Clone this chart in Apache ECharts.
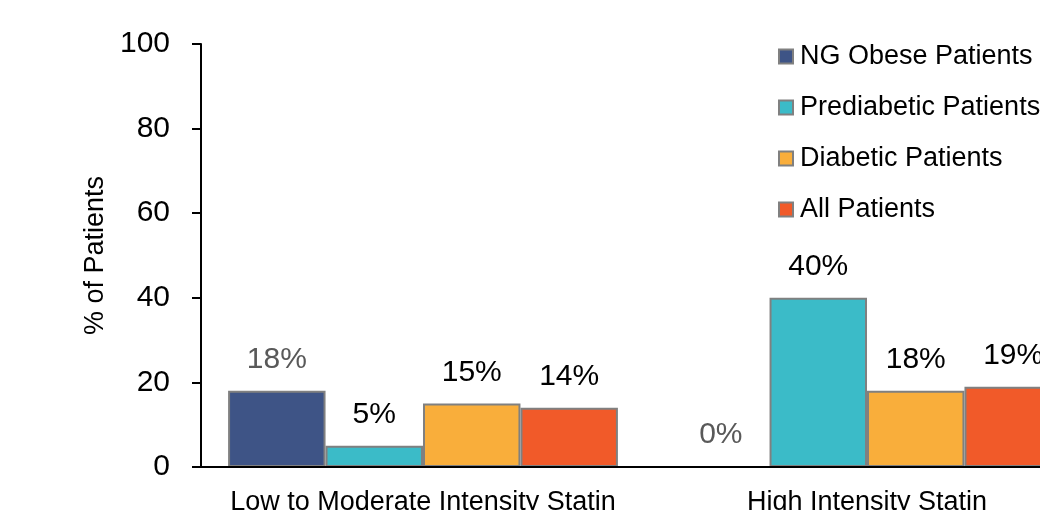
<!DOCTYPE html>
<html>
<head>
<meta charset="utf-8">
<script src="https://cdn.jsdelivr.net/npm/echarts@6/dist/echarts.min.js"></script>
<style>
  html, body { margin: 0; padding: 0; background: #ffffff; overflow: hidden; }
  #chart { width: 1100px; height: 540px; }
</style>
</head>
<body>
<div id="chart"></div>
<script>
// Statin intensity by patient group (% of patients)
const categories = ['Low to Moderate Intensity Statin', 'High Intensity Statin'];
const seriesNames = ['NG Obese Patients', 'Prediabetic Patients', 'Diabetic Patients', 'All Patients'];
const ngObese = [18, 0];
const prediabetic = [5, 40];
const diabetic = [15, 18];
const allPatients = [14, 19];
const yTicks = [0, 20, 40, 60, 80, 100];

const seriesValues = [ngObese, prediabetic, diabetic, allPatients];
const colors = ['#3e5486', '#3bbbc8', '#f9ae3b', '#f15a29'];
const labelColors = ['#595959', '#000000', '#000000', '#000000'];
const font = '"Liberation Sans", Arial, sans-serif';

const chart = echarts.init(document.getElementById('chart'), null, { renderer: 'canvas' });

chart.setOption({
  animation: false,
  backgroundColor: '#ffffff',
  textStyle: { fontFamily: font },
  grid: { left: 201, top: 44, width: 888, height: 423, containLabel: false },
  legend: {
    orient: 'vertical',
    left: 773,
    top: 38,
    itemWidth: 14,
    itemHeight: 14,
    itemGap: 24,
    icon: 'rect',
    textStyle: { fontFamily: font, fontSize: 27, color: '#000000', padding: [0, 0, 0, 2] },
    data: seriesNames
  },
  xAxis: {
    type: 'category',
    data: categories,
    z: 5,
    axisLine: { show: true, lineStyle: { color: '#000000', width: 2 } },
    axisTick: { show: false },
    axisLabel: { interval: 0, margin: 22, fontFamily: font, fontSize: 27, color: '#000000' },
    splitLine: { show: false }
  },
  yAxis: {
    type: 'value',
    min: yTicks[0],
    max: yTicks[yTicks.length - 1],
    interval: yTicks[1] - yTicks[0],
    name: '% of Patients',
    nameLocation: 'middle',
    nameGap: 90,
    nameRotate: 90,
    nameTextStyle: { fontFamily: font, fontSize: 27, color: '#000000' },
    z: 5,
    axisLine: { show: true, lineStyle: { color: '#000000', width: 2 } },
    axisTick: { show: true, inside: false, length: 9, lineStyle: { color: '#000000', width: 2 } },
    axisLabel: { margin: 31, fontFamily: font, fontSize: 30, color: '#000000' },
    splitLine: { show: false }
  },
  series: seriesNames.map((name, i) => ({
    name: name,
    type: 'bar',
    data: seriesValues[i],
    barGap: '0%',
    barCategoryGap: '12.2%',
    itemStyle: { color: colors[i], borderColor: '#808080', borderWidth: 2 },
    label: {
      show: true,
      position: 'top',
      distance: 16,
      formatter: p => p.value + '%',
      fontFamily: font,
      fontSize: 30,
      color: labelColors[i]
    }
  }))
});
</script>
</body>
</html>
